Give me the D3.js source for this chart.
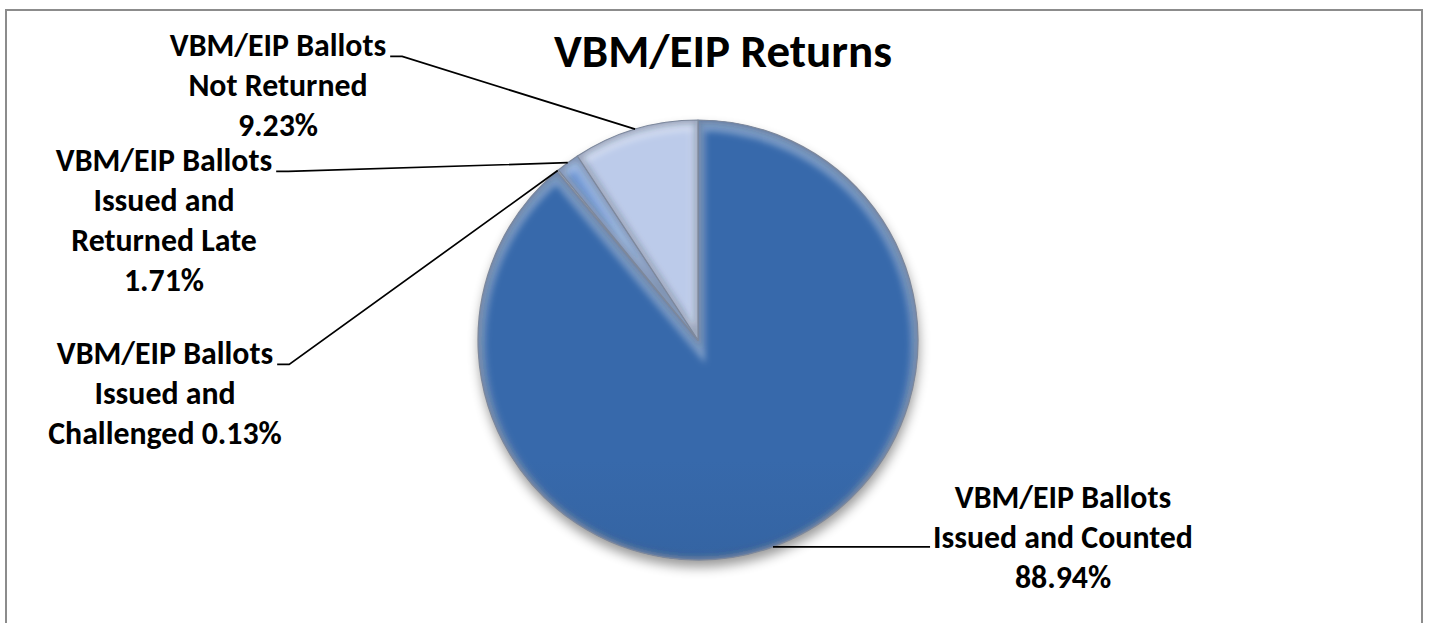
<!DOCTYPE html>
<meta charset="utf-8">
<style>
    body {
        margin: 0;
        background: #ffffff;
    }

    text {
        font-family: Calibri, Carlito, Lato, sans-serif;
        font-weight: bold;
        fill: #000000;
    }

    .leader {
        fill: none;
        stroke: #000000;
        stroke-width: 1.7;
    }
</style>

<body>
    <svg width="1429" height="623"></svg>
    <script src="https://cdn.jsdelivr.net/npm/d3@7"></script>
    <script>
        // data, clockwise from 12 o'clock
        var categories = ["Issued and Counted", "Issued and Challenged", "Issued and Returned Late", "Not Returned"];
        var values = [88.94, 0.13, 1.71, 9.23];
        var labelLines = [
            ["VBM/EIP Ballots", "Issued and Counted", "{p}"],
            ["VBM/EIP Ballots", "Issued and", "Challenged {p}"],
            ["VBM/EIP Ballots", "Issued and", "Returned Late", "{p}"],
            ["VBM/EIP Ballots", "Not Returned", "{p}"]
        ];
        var title = "VBM/EIP Returns";

        var svg = d3.select("svg");
        var width = +svg.attr("width");
        var height = +svg.attr("height");

        var cx = 698, cy = 340, r = 220;
        var fmt = function(v) { return d3.format(".2f")(v) + "%"; };

        // where each label block sits (centre x, first line centre y) and which side the leader leaves from
        var labelPos = [
            { x: 1063, y: 497, side: "left" },
            { x: 165, y: 353, side: "right" },
            { x: 164, y: 160, side: "right" },
            { x: 278, y: 45, side: "right" }
        ];
        var lineHeight = 40;

        var colors = [
            ["#3769ab", "#2b5386"],
            ["#c6ccd8", "#9aa3b4"],
            ["#6f98d6", "#4e78ba"],
            ["#bccbea", "#9cadcd"]
        ];

        // frame
        svg.append("rect")
            .attr("x", 6).attr("y", 10)
            .attr("width", 1416).attr("height", 660)
            .attr("fill", "#ffffff")
            .attr("stroke", "#8c8c8c")
            .attr("stroke-width", 2);

        var defs = svg.append("defs");
        defs.append("filter").attr("id", "blur6").attr("x", "-20%").attr("y", "-20%").attr("width", "140%").attr("height", "140%")
            .append("feGaussianBlur").attr("stdDeviation", 6);
        defs.append("filter").attr("id", "blur3").attr("x", "-20%").attr("y", "-20%").attr("width", "140%").attr("height", "140%")
            .append("feGaussianBlur").attr("stdDeviation", 3);

        colors.forEach(function(c, i) {
            var lg = defs.append("linearGradient")
                .attr("id", "grad" + i)
                .attr("gradientUnits", "userSpaceOnUse")
                .attr("x1", 0).attr("y1", cy - r).attr("x2", 0).attr("y2", cy + r);
            lg.append("stop").attr("offset", "0%").attr("stop-color", c[0]);
            lg.append("stop").attr("offset", "100%").attr("stop-color", c[1]);
        });

        var pie = d3.pie().sort(null).value(function(d) { return d; });
        var arcs = pie(values);
        var arc = d3.arc().innerRadius(0).outerRadius(r);
        var rim = d3.arc().innerRadius(r).outerRadius(r);

        var g = svg.append("g").attr("transform", "translate(" + cx + "," + cy + ")");

        // drop shadow under the pie
        g.append("circle")
            .attr("cx", 1).attr("cy", 7).attr("r", r)
            .attr("fill", "#000000")
            .attr("opacity", 0.4)
            .attr("filter", "url(#blur6)");

        arcs.forEach(function(a, i) {
            defs.append("clipPath").attr("id", "clip" + i)
                .append("path").attr("d", arc(a)).attr("transform", "translate(" + cx + "," + cy + ")");
        });

        var slices = g.selectAll(".slice")
            .data(arcs)
            .enter().append("g")
            .attr("class", "slice");

        slices.append("path")
            .attr("d", arc)
            .attr("fill", function(d, i) { return "url(#grad" + i + ")"; });

        // soft bevel: dark inner edge and light highlight, clipped to the slice
        slices.append("g")
            .attr("clip-path", function(d, i) { return "url(#clip" + i + ")"; })
            .attr("transform", "translate(" + (-cx) + "," + (-cy) + ")")
            .each(function(d) {
                var s = d3.select(this).append("g").attr("transform", "translate(" + cx + "," + cy + ")");
                s.append("path")
                    .attr("d", arc(d))
                    .attr("fill", "none")
                    .attr("stroke", "#14294a")
                    .attr("stroke-opacity", 0.55)
                    .attr("stroke-width", 7)
                    .attr("filter", "url(#blur3)");
                s.append("path")
                    .attr("d", arc(d))
                    .attr("fill", "none")
                    .attr("stroke", "#ffffff")
                    .attr("stroke-opacity", 0.35)
                    .attr("stroke-width", 14)
                    .attr("transform", "translate(0,4)")
                    .attr("filter", "url(#blur3)");
            });

        slices.append("path")
            .attr("d", arc)
            .attr("fill", "none")
            .attr("stroke", "#7d889c")
            .attr("stroke-width", 1.2)
            .attr("stroke-linejoin", "round");

        // title, sized so its width matches the picture
        var t = svg.append("text")
            .attr("x", 723).attr("y", 67)
            .attr("text-anchor", "middle")
            .style("font-size", "48px")
            .text(title);
        var tw = t.node().getComputedTextLength();
        t.style("font-size", (48 * 338 / tw) + "px");

        // label font size fitted to the width of "Issued and Counted"
        var probe = svg.append("text").style("font-size", "32px").text(labelLines[0][1]);
        var labelSize = 32 * 260 / probe.node().getComputedTextLength();
        probe.remove();

        arcs.forEach(function(a, i) {
            var p = labelPos[i];
            var lines = labelLines[i].map(function(s) { return s.replace("{p}", fmt(values[i])); });
            var lab = svg.append("g");
            var firstW = 0;
            lines.forEach(function(s, k) {
                var tx = lab.append("text")
                    .attr("x", p.x)
                    .attr("y", p.y + k * lineHeight)
                    .attr("dy", "0.35em")
                    .attr("text-anchor", "middle")
                    .style("font-size", labelSize + "px")
                    .text(s);
                if (k === 0) firstW = tx.node().getComputedTextLength();
            });

            var end = rim.centroid(a);
            var ex = cx + end[0], ey = cy + end[1];
            var pts;
            if (p.side === "right") {
                var sx = p.x + firstW / 2 + 4;
                var sy = p.y + labelSize * 0.36;
                pts = [[sx, sy], [sx + 12, sy], [ex, ey]];
            } else {
                var lw = svg.append("text").style("font-size", labelSize + "px").text(lines[1]);
                var w1 = lw.node().getComputedTextLength();
                lw.remove();
                var lx = p.x - w1 / 2 - 3;
                pts = [[lx, ey], [ex, ey]];
            }
            svg.append("path")
                .attr("class", "leader")
                .attr("d", d3.line()(pts));
        });
    </script>
</body>
